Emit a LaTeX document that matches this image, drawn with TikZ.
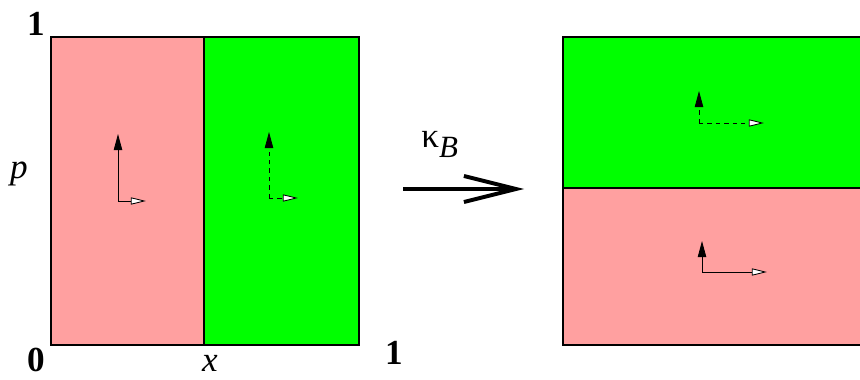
\documentclass[tikz,border=0pt]{standalone}
\usepackage{fontspec}
\setmainfont{Liberation Serif}
\usepackage{xcolor}
\usetikzlibrary{arrows.meta}

\definecolor{rose}{HTML}{FFA0A0}
\definecolor{vert}{HTML}{00FF00}

\begin{document}
\begin{tikzpicture}[
  x=0.025cm, y=-0.025cm,
  font=\fontsize{25}{28}\selectfont,
  zone/.style={draw=black, line width=1pt},
  montee/.style={
    -{Triangle[length=4mm, width=2.1mm]},
    draw=black, line width=0.6pt
  },
  cote/.style={
    -{Triangle[length=3.8mm, width=1.8mm, open, fill=white]},
    draw=black, line width=0.6pt
  },
  pointille/.style={dashed, dash pattern=on 3pt off 3pt},
  grosse/.style={
    -{Straight Barb[length=13mm, width=6.5mm, line width=2.8pt]},
    line width=2.8pt
  },
  chiffre/.style={font=\fontsize{25}{28}\selectfont\bfseries, anchor=base, inner sep=0pt},
  lettre/.style={font=\fontsize{25}{28}\selectfont\itshape, anchor=base, inner sep=0pt}
]
\useasboundingbox (0,0) rectangle (860,380);

% ----- carré de gauche -----
\filldraw[zone, fill=rose] (51,37) rectangle (204,345);
\filldraw[zone, fill=vert] (204,37) rectangle (359,345);
\coordinate (gA) at (118,201);
\coordinate (gV) at (118,134);
\coordinate (gH) at (146,201);
\draw[montee] (gA) -- (gV);
\draw[cote] (gA) -- (gH);
\coordinate (dA) at (269,198);
\coordinate (dV) at (269,132);
\coordinate (dH) at (298,198);
\draw[montee, pointille] (dA) -- (dV);
\draw[cote, pointille] (dA) -- (dH);

\node[chiffre] (un)   at (36,36)  {1};
\node[lettre]  (p)    at (19,178) {p};
\node[chiffre] (zero) at (36,371) {0};
\node[lettre]  (x)    at (210,371) {x};
\node[chiffre] (unx)  at (394,364) {1};

% ----- application -----
\coordinate (depart) at (403,189);
\coordinate (arrivee) at (524,189);
\draw[grosse] (depart) -- (arrivee);
\node[anchor=base west, inner sep=0pt] (kappa) at (421,148)
  {κ\raisebox{-0.6ex}{\fontsize{22}{24}\selectfont\itshape B}};

% ----- rectangle de droite -----
\filldraw[zone, fill=vert] (563,37) rectangle (866,188);
\filldraw[zone, fill=rose] (563,188) rectangle (866,345);
\coordinate (hA) at (699,123);
\coordinate (hV) at (699,91);
\coordinate (hH) at (764,123);
\draw[montee, pointille] (hA) -- (hV);
\draw[cote, pointille] (hA) -- (hH);
\coordinate (bA) at (702,272);
\coordinate (bV) at (702,241);
\coordinate (bH) at (767,272);
\draw[montee] (bA) -- (bV);
\draw[cote] (bA) -- (bH);
\end{tikzpicture}
\end{document}
